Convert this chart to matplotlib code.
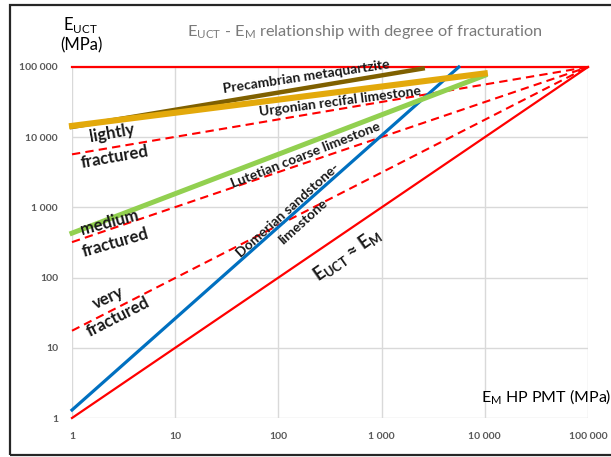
import matplotlib
matplotlib.use("Agg")
import matplotlib.pyplot as plt
from matplotlib.patches import Rectangle
from matplotlib.ticker import FixedLocator, FixedFormatter, NullLocator

# ---- data ----
ticks = [1, 10, 100, 1000, 10000, 100000]
tick_labels = ["1", "10", "100", "1 000", "10 000", "100 000"]

equal_x = [1, 100000]
equal_y = [1, 100000]

cap_x = [1, 100000]
cap_y = [100000, 100000]

# fracturation dashed lines (x=1 -> x=100000)
frac_x = [1, 100000]
lightly_y = [5700, 100000]
medium_y = [320, 100000]
very_y = [17.5, 100000]

domerian_x = [1, 5600]
domerian_y = [1.3, 100000]

lutetian_x = [1, 10000]
lutetian_y = [430, 76000]

precambrian_x = [1, 2500]
precambrian_y = [14000, 95000]

urgonian_x = [1, 10000]
urgonian_y = [14500, 81000]

FONT = ["Lato", "DejaVu Sans"]
plt.rcParams['font.family'] = FONT

fig = plt.figure(figsize=(6.11, 4.57), dpi=100)
ax = fig.add_axes([72/611, 1-418/457, (588-72)/611, (418-67)/457])
ax.set_xscale('log')
ax.set_yscale('log')
ax.set_xlim(1, 100000)
ax.set_ylim(1, 100000)

ax.xaxis.set_major_locator(FixedLocator(ticks))
ax.xaxis.set_major_formatter(FixedFormatter(tick_labels))
ax.yaxis.set_major_locator(FixedLocator(ticks))
ax.yaxis.set_major_formatter(FixedFormatter(tick_labels))
ax.xaxis.set_minor_locator(NullLocator())
ax.yaxis.set_minor_locator(NullLocator())
for sp in ax.spines.values():
    sp.set_visible(False)
ax.grid(True, color="#d9d9d9", lw=1.0)
ax.tick_params(length=0, labelsize=7.5, labelcolor="#595959", pad=10)
for lab in ax.get_xticklabels() + ax.get_yticklabels():
    lab.set_fontweight('bold')
ax.set_axisbelow(True)

red = "#ff0000"
ax.plot(cap_x, cap_y, color=red, lw=1.6, clip_on=False, zorder=3)
ax.plot(equal_x, equal_y, color=red, lw=1.6, clip_on=False, zorder=3)
for yy in (lightly_y, medium_y, very_y):
    ax.plot(frac_x, yy, color=red, lw=1.5, ls=(0, (4, 2.5)), clip_on=False, zorder=3)

ax.plot(domerian_x, domerian_y, color="#0070c0", lw=2.3, zorder=4, clip_on=False)
ax.plot(lutetian_x, lutetian_y, color="#92d050", lw=3.6, zorder=5, clip_on=False)
ax.plot(precambrian_x, precambrian_y, color="#7f6000", lw=3.2, zorder=5, clip_on=False)
ax.plot(urgonian_x, urgonian_y, color="#e3a90b", lw=4.4, zorder=6, clip_on=False)

tkw = dict(ha='center', va='center', fontweight='bold', color='#1a1a1a',
           fontsize=10, rotation_mode='anchor', zorder=10)
ax.text(185, 72000, "Precambrian metaquartzite", rotation=8.5, **tkw)
ax.text(395, 32700, "Urgonian recifal limestone", rotation=7.5, **tkw)
ax.text(185, 5600, "Lutetian coarse limestone", rotation=21.5, **tkw)
ax.text(124, 920, "Domerian sandstone-", rotation=42, **tkw)
ax.text(173, 620, "limestone", rotation=42, **tkw)
fkw = {**tkw, 'fontsize': 12}
ax.text(2.45, 11500, "lightly", rotation=10, **fkw)
ax.text(2.6, 5250, "fractured", rotation=10, **fkw)
ax.text(2.3, 620, "medium", rotation=15, **fkw)
ax.text(2.6, 310, "fractured", rotation=16, **fkw)
ax.text(2.23, 51, "very", rotation=25, **fkw)
ax.text(2.8, 27.6, "fractured", rotation=27, **fkw)
ax.text(470, 210, r"E$_{\mathregular{UCT}}$ ≈ E$_{\mathregular{M}}$", rotation=35,
        **{**tkw, 'fontsize': 13})

# titles / labels
fig.text(365/611, 1-32/457, r"E$_{\mathregular{UCT}}$ - E$_{\mathregular{M}}$ relationship with degree of fracturation",
         ha='center', va='center', color="#7a7a7a", fontsize=11.8)
fig.text(80/611, 1-25/457, r"E$_{\mathregular{UCT}}$", ha='center', va='center', fontsize=12, color='black')
fig.text(81/611, 1-45/457, "(MPa)", ha='center', va='center', fontsize=12, color='black')
fig.text(611/611, 1-397/457, r"E$_{\mathregular{M}}$ HP PMT (MPa)", ha='right', va='center', fontsize=11.5, color='black')

# outer frame
fig.patches.append(Rectangle((10/611, 2/457), 1.0, 1-7/457, transform=fig.transFigure,
                             fill=False, edgecolor="#262626", lw=1.6, zorder=0))

fig.savefig("out.png", dpi=100)
